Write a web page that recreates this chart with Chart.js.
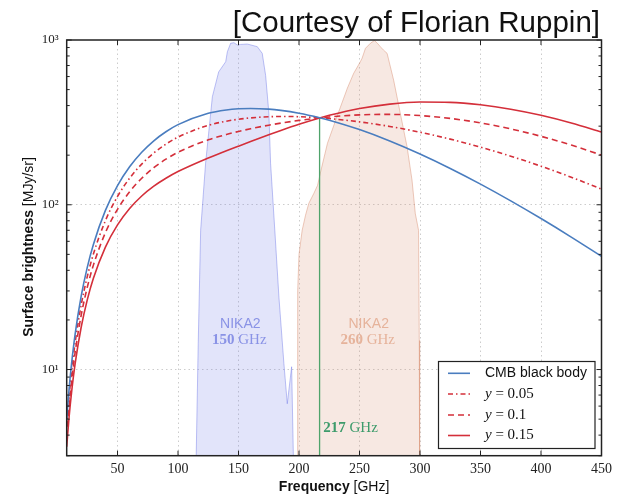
<!DOCTYPE html>
<html>
<head>
<meta charset="utf-8">
<script src="https://cdn.jsdelivr.net/npm/chart.js@4.4.0/dist/chart.umd.min.js"></script>
<style>
  html, body { margin: 0; padding: 0; background: #fff; }
  canvas { display: block; }
</style>
</head>
<body>
<canvas id="szChart" width="623" height="495"></canvas>
<script>
const freq = [8, 10, 12, 15, 20, 25, 30, 40, 50, 60, 70, 80, 90, 100, 125, 140, 150, 160, 175, 185,
              200, 217, 225, 250, 275, 300, 325, 350, 375, 400, 425, 450];

// Surface brightness in MJy/sr
const cmbBody = [5.00, 7.67, 10.84, 16.48, 27.98, 41.71, 57.28, 92.41, 130.70, 169.95, 208.37,
                 244.56, 277.49, 306.42, 358.82, 376.21, 382.27, 384.26, 380.44, 373.97,
                 359.48, 337.70, 326.01, 285.95, 243.97, 203.36, 166.17, 133.47, 105.61, 82.49,
                 63.68, 48.66];
const szY005 = [4.47, 6.84, 9.64, 14.62, 24.69, 36.64, 50.08, 80.06, 112.30, 144.94, 176.59,
                206.26, 233.29, 257.29, 303.27, 321.65, 330.46, 336.81, 342.24, 343.48,
                342.31, 337.23, 333.67, 318.59, 298.77, 275.58, 250.21, 223.75, 197.19, 171.39,
                146.99, 124.49];
const szY010 = [3.93, 6.00, 8.44, 12.75, 21.41, 31.56, 42.87, 67.72, 93.89, 119.92, 144.82,
                167.97, 189.10, 208.16, 247.73, 267.08, 278.65, 289.36, 304.05, 313.00,
                325.13, 336.75, 341.32, 351.23, 353.57, 347.80, 334.25, 314.03, 288.77, 260.29,
                230.29, 200.32];
const szY015 = [3.40, 5.17, 7.24, 10.89, 18.12, 26.49, 35.67, 55.37, 75.49, 94.91, 113.04,
                129.67, 144.90, 159.03, 192.18, 212.52, 226.84, 241.91, 265.85, 282.51,
                307.96, 336.28, 348.98, 383.87, 408.37, 420.02, 418.28, 404.31, 380.35, 349.19,
                313.60, 276.15];

// NIKA2 bandpasses (scaled so the peak sits near 10^3)
const nika150Freq = [114.6, 116.7, 118.7, 122.8, 128.4, 133.6, 139.4, 140.8, 143.5, 146.2, 149.0,
                     151.7, 157.3, 165.5, 169.6, 172.4, 175.1, 176.5, 180.0, 183.4, 187.5, 190.3,
                     193.9, 195.8];
const nika150Level = [2, 14.4, 70, 179, 453, 640, 738, 849, 955, 963, 933,
                      940, 945, 911, 830, 610, 359, 179, 70, 27.5, 10.9, 6.2,
                      10.4, 2];
const nika260Freq = [198.5, 198.9, 200.0, 202.6, 205.4, 208.1, 212.2, 215.3, 218.6, 223.5, 231.8,
                     240.0, 245.2, 250.7, 252.1, 254.9, 259.0, 262.3, 264.8, 267.2, 269.7, 272.8,
                     278.2, 283.7, 289.3, 293.4, 296.1, 298.8, 299.4, 299.7];
const nika260Level = [2, 30, 50, 70, 86.5, 102, 117, 131, 167, 236, 350,
                      511, 628, 738, 774, 890, 955, 993, 955, 911, 870, 830,
                      571, 359, 225, 141, 88.5, 70, 15, 2];

const nullFreq = 217;
const nullLevel = [3, 337];

const xTicks = [50, 100, 150, 200, 250, 300, 350, 400, 450];
const yMajor = [10, 100, 1000];
const yMajorLabels = ['10¹', '10²', '10³'];
const yMinor = [3, 4, 5, 6, 7, 8, 9, 20, 30, 40, 50, 60, 70, 80, 90,
                200, 300, 400, 500, 600, 700, 800, 900];

const seriesLabels = ['CMB black body', '0.05', '0.1', '0.15'];

const BLUE = '#4a7dbf';
const RED = '#d42f3a';
const GRID = 'rgba(0,0,0,0.2)';

const pts = (xs, ys) => xs.map((x, i) => ({ x: x, y: ys[i] }));

function curve(values, dash) {
    return {
        data: pts(freq, values),
        borderColor: values === cmbBody ? BLUE : RED,
        borderWidth: 1.6,
        borderDash: dash,
        pointRadius: 0,
        cubicInterpolationMode: 'monotone',
        fill: false,
        order: 0
    };
}

const dashes = [[], [5, 3, 1.5, 3], [6, 4], []];

// draws the frame, inward ticks, axis titles, band labels and legend
const decor = {
    id: 'decor',
    afterDatasetsDraw(chart) {
        const { ctx, scales: { x, y } } = chart;
        ctx.save();
        ctx.textAlign = 'center';
        ctx.textBaseline = 'middle';

        const bandLabel = (nu, lvl, lvl2, num, color) => {
            const px = x.getPixelForValue(nu);
            ctx.fillStyle = color;
            ctx.font = '14px "Liberation Sans"';
            ctx.fillText('NIKA2', px, y.getPixelForValue(lvl));
            ctx.font = 'bold 15px "Liberation Serif"';
            const w1 = ctx.measureText(num + ' ').width;
            ctx.font = '15px "Liberation Serif"';
            const w2 = ctx.measureText('GHz').width;
            const left = px - (w1 + w2) / 2 - 1;
            const py = y.getPixelForValue(lvl2);
            ctx.textAlign = 'left';
            ctx.font = 'bold 15px "Liberation Serif"';
            ctx.fillText(num + ' ', left, py);
            ctx.font = '15px "Liberation Serif"';
            ctx.fillText('GHz', left + w1, py);
            ctx.textAlign = 'center';
        };
        bandLabel(151.5, 18.8, 15.0, '150', '#8a93e6');
        bandLabel(257.6, 18.8, 15.0, '260', '#e6b39b');

        // 217 GHz marker label
        ctx.textAlign = 'left';
        ctx.fillStyle = '#3d9b6b';
        const gx = x.getPixelForValue(220), gy = y.getPixelForValue(4.4);
        ctx.font = 'bold 15px "Liberation Serif"';
        ctx.fillText('217 ', gx, gy);
        const gw = ctx.measureText('217 ').width;
        ctx.font = '15px "Liberation Serif"';
        ctx.fillText('GHz', gx + gw, gy);
        ctx.restore();
    },
    afterDraw(chart) {
        const { ctx, chartArea: a, scales: { x, y } } = chart;
        ctx.save();
        const seg = (x1, y1, x2, y2) => {
            ctx.beginPath(); ctx.moveTo(x1, y1); ctx.lineTo(x2, y2); ctx.stroke();
        };
        ctx.strokeStyle = '#222';
        ctx.lineWidth = 1;
        xTicks.forEach(v => {
            const px = x.getPixelForValue(v);
            seg(px, a.bottom, px, a.bottom - 5);
            seg(px, a.top, px, a.top + 5);
        });
        yMajor.forEach(v => {
            const py = y.getPixelForValue(v);
            seg(a.left, py, a.left + 5, py);
            seg(a.right, py, a.right - 5, py);
        });
        yMinor.forEach(v => {
            const py = y.getPixelForValue(v);
            seg(a.left, py, a.left + 3, py);
            seg(a.right, py, a.right - 3, py);
        });
        ctx.lineWidth = 1.5;
        ctx.strokeRect(a.left, a.top, a.right - a.left, a.bottom - a.top);

        // title
        ctx.fillStyle = '#111';
        ctx.textAlign = 'right';
        ctx.textBaseline = 'alphabetic';
        ctx.font = '29.5px "Liberation Sans"';
        ctx.fillText('[Courtesy of Florian Ruppin]', 600, 32);

        // x axis title
        ctx.textAlign = 'left';
        ctx.font = 'bold 14px "Liberation Sans"';
        const xa = 'Frequency ', xb = '[GHz]';
        const wa = ctx.measureText(xa).width;
        ctx.font = '14px "Liberation Sans"';
        const wb = ctx.measureText(xb).width;
        const xl = (a.left + a.right) / 2 - (wa + wb) / 2;
        ctx.font = 'bold 14px "Liberation Sans"';
        ctx.fillText(xa, xl, 491);
        ctx.font = '14px "Liberation Sans"';
        ctx.fillText(xb, xl + wa, 491);

        // y axis title
        ctx.save();
        ctx.translate(33, 247);
        ctx.rotate(-Math.PI / 2);
        ctx.font = 'bold 14px "Liberation Sans"';
        const ya = 'Surface brightness ', yb = '[MJy/sr]';
        const wya = ctx.measureText(ya).width;
        ctx.font = '14px "Liberation Sans"';
        const wyb = ctx.measureText(yb).width;
        const yl = -(wya + wyb) / 2;
        ctx.font = 'bold 14px "Liberation Sans"';
        ctx.fillText(ya, yl, 0);
        ctx.font = '14px "Liberation Sans"';
        ctx.fillText(yb, yl + wya, 0);
        ctx.restore();

        // legend
        const bx = 438.5, by = 361.5, bw = 156.5, bh = 87;
        ctx.fillStyle = '#fff';
        ctx.fillRect(bx, by, bw, bh);
        ctx.strokeStyle = '#222';
        ctx.lineWidth = 1.2;
        ctx.strokeRect(bx, by, bw, bh);
        const rows = [373.3, 394, 415, 435.5];
        ctx.textBaseline = 'middle';
        seriesLabels.forEach((lab, i) => {
            ctx.strokeStyle = i === 0 ? BLUE : RED;
            ctx.lineWidth = 1.6;
            ctx.setLineDash(dashes[i]);
            seg(448, rows[i], 470, rows[i]);
            ctx.setLineDash([]);
            ctx.fillStyle = '#111';
            if (i === 0) {
                ctx.font = '14px "Liberation Sans"';
                ctx.fillText(lab, 485, rows[i]);
            } else {
                ctx.font = 'italic 15px "Liberation Serif"';
                ctx.fillText('y', 485, rows[i]);
                const w = ctx.measureText('y').width;
                ctx.font = '15px "Liberation Serif"';
                ctx.fillText(' = ' + lab, 485 + w, rows[i]);
            }
        });
        ctx.restore();
    }
};

const ctx = document.getElementById('szChart').getContext('2d');

const szChart = new Chart(ctx, {
    type: 'line',
    data: {
        datasets: [
            curve(cmbBody, dashes[0]),
            curve(szY005, dashes[1]),
            curve(szY010, dashes[2]),
            curve(szY015, dashes[3]),
            {
                data: [{ x: nullFreq, y: nullLevel[0] }, { x: nullFreq, y: nullLevel[1] }],
                borderColor: '#4fa36b',
                borderWidth: 1.3,
                pointRadius: 0,
                fill: false,
                order: 1
            },
            {
                data: pts(nika150Freq, nika150Level),
                borderColor: 'rgba(110,120,230,0.45)',
                backgroundColor: 'rgba(110,120,230,0.2)',
                borderWidth: 1,
                pointRadius: 0,
                tension: 0,
                fill: 'start',
                order: 2
            },
            {
                data: pts(nika260Freq, nika260Level),
                borderColor: 'rgba(215,140,110,0.45)',
                backgroundColor: 'rgba(215,140,110,0.2)',
                borderWidth: 1,
                pointRadius: 0,
                tension: 0,
                fill: 'start',
                order: 2
            }
        ]
    },
    options: {
        responsive: false,
        animation: false,
        devicePixelRatio: 1,
        layout: { padding: { top: 40, right: 21.5, left: 0, bottom: 0 } },
        plugins: {
            legend: { display: false },
            tooltip: { enabled: false }
        },
        scales: {
            x: {
                type: 'linear',
                min: 8,
                max: 450,
                afterBuildTicks: s => { s.ticks = xTicks.map(v => ({ value: v })); },
                afterFit: s => { s.height = 39.3; },
                grid: {
                    drawTicks: false,
                    color: c => (c.tick && c.tick.value < 450) ? GRID : 'transparent'
                },
                border: { display: false, dash: [1.5, 3] },
                ticks: {
                    padding: 5,
                    color: '#222',
                    font: { family: '"Liberation Serif"', size: 14 },
                    maxRotation: 0,
                    autoSkip: false
                }
            },
            y: {
                type: 'logarithmic',
                min: 3,
                max: 1000,
                afterBuildTicks: s => {
                    s.ticks = yMinor.concat(yMajor).sort((p, q) => p - q).map(v => ({ value: v }));
                },
                afterFit: s => { s.width = 66.7; },
                grid: {
                    drawTicks: false,
                    color: c => (c.tick && (c.tick.value === 10 || c.tick.value === 100)) ? GRID : 'transparent'
                },
                border: { display: false, dash: [1.5, 3] },
                ticks: {
                    padding: 8,
                    color: '#222',
                    autoSkip: false,
                    font: { family: '"Liberation Serif"', size: 13 },
                    callback: v => {
                        const i = yMajor.indexOf(v);
                        return i >= 0 ? yMajorLabels[i] : '';
                    }
                }
            }
        }
    },
    plugins: [decor]
});
</script>
</body>
</html>
